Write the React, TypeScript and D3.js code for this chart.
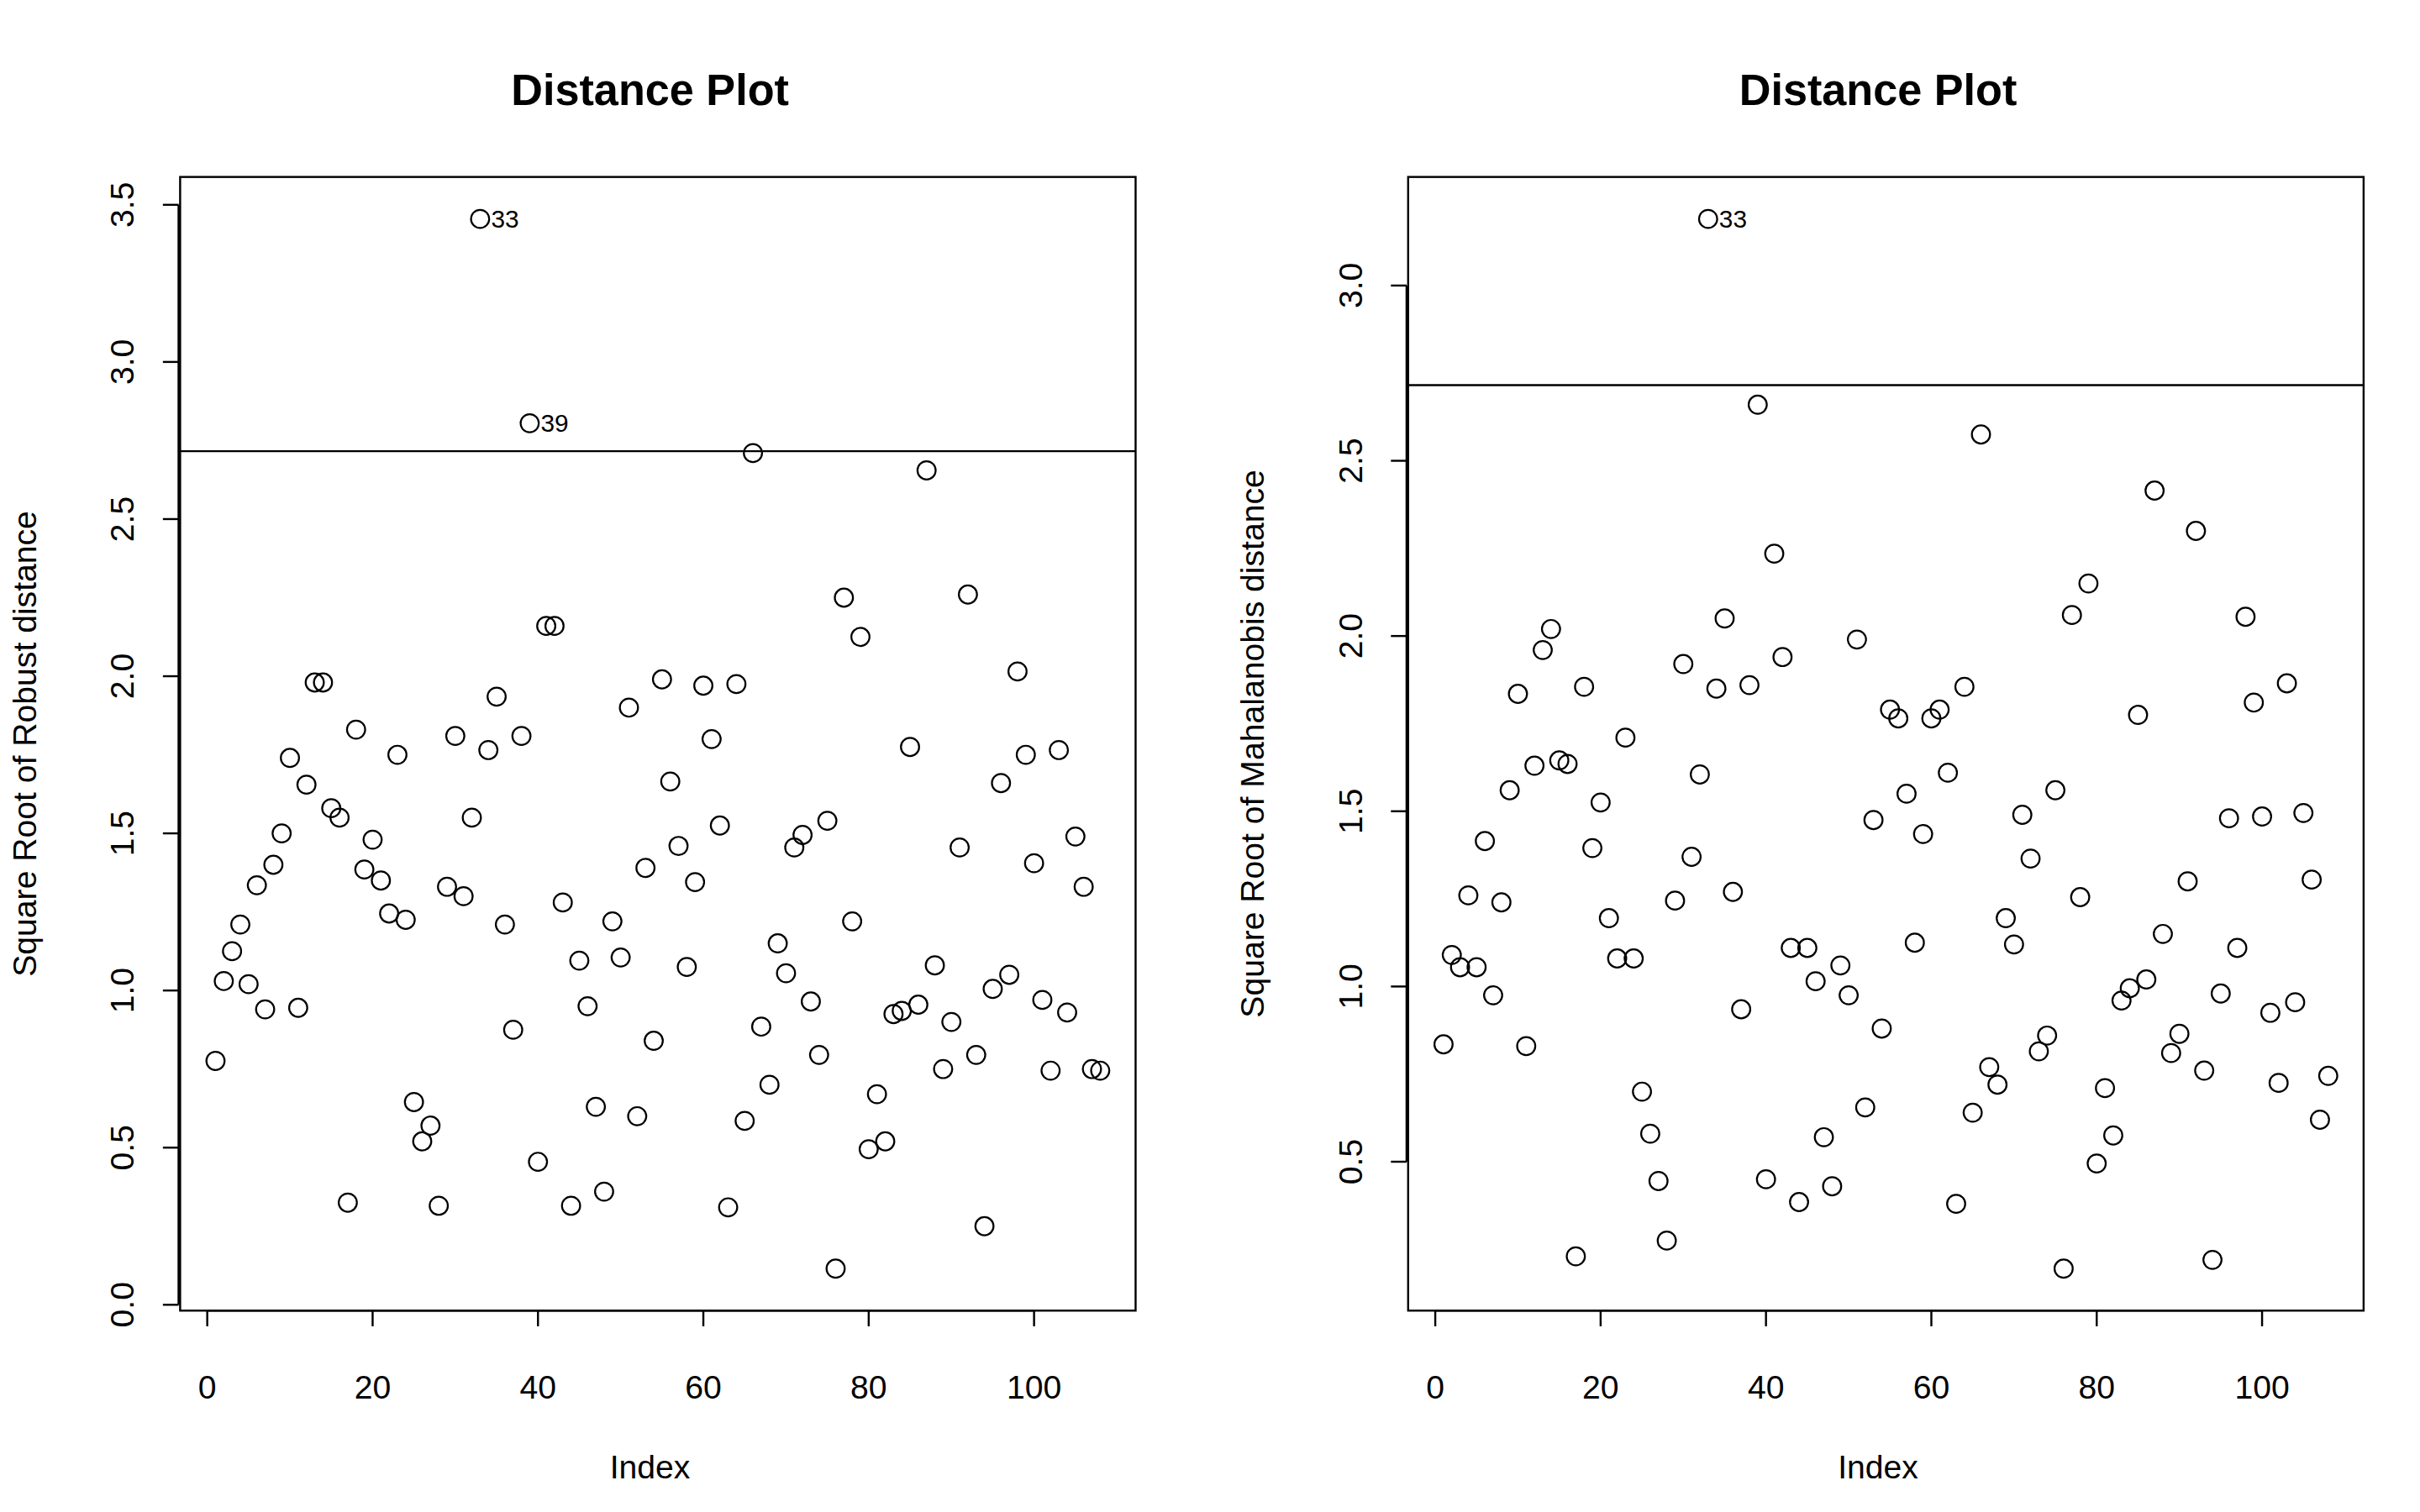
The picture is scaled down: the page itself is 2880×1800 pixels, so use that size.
import React, { useEffect, useRef } from "react";
import * as d3 from "d3";

const robust: number[] = [0.776,1.03,1.125,1.21,1.02,1.335,0.94,1.40,1.50,1.74,0.945,1.655,1.98,1.98,1.58,1.55,0.325,1.83,1.385,1.48,1.35,1.245,1.75,1.225,0.645,0.52,0.57,0.315,1.33,1.81,1.30,1.55,3.455,1.765,1.935,1.21,0.875,1.81,2.805,0.455,2.16,2.16,1.28,0.315,1.095,0.95,0.63,0.36,1.22,1.105,1.90,0.60,1.39,0.84,1.99,1.665,1.46,1.075,1.345,1.97,1.80,1.525,0.31,1.975,0.585,2.71,0.885,0.70,1.15,1.055,1.455,1.495,0.965,0.795,1.54,0.115,2.25,1.22,2.125,0.495,0.67,0.52,0.925,0.935,1.775,0.955,2.655,1.08,0.75,0.90,1.455,2.26,0.795,0.25,1.005,1.66,1.05,2.015,1.75,1.405,0.97,0.745,1.765,0.93,1.49,1.33,0.75,0.745];
const mahal: number[] = [0.835,1.09,1.055,1.26,1.055,1.415,0.975,1.24,1.56,1.835,0.83,1.63,1.96,2.02,1.645,1.635,0.23,1.855,1.395,1.525,1.195,1.08,1.71,1.08,0.70,0.58,0.445,0.275,1.245,1.92,1.37,1.605,3.19,1.85,2.05,1.27,0.935,1.86,2.66,0.45,2.235,1.94,1.11,0.385,1.11,1.015,0.57,0.43,1.06,0.975,1.99,0.655,1.475,0.88,1.79,1.765,1.55,1.125,1.435,1.765,1.79,1.61,0.38,1.855,0.64,2.575,0.77,0.72,1.195,1.12,1.49,1.365,0.815,0.86,1.56,0.195,2.06,1.255,2.15,0.495,0.71,0.575,0.96,0.995,1.775,1.02,2.415,1.15,0.81,0.865,1.30,2.30,0.76,0.22,0.98,1.48,1.11,2.055,1.81,1.485,0.925,0.725,1.865,0.955,1.495,1.305,0.62,0.745];
const cutoff = 2.716;
const xTicks = [0, 20, 40, 60, 80, 100];
const robustTicks = [0.0, 0.5, 1.0, 1.5, 2.0, 2.5, 3.0, 3.5];
const mahalTicks = [0.5, 1.0, 1.5, 2.0, 2.5, 3.0];
const panels = [
  { title: "Distance Plot", ylab: "Square Root of Robust distance", values: robust, ticks: robustTicks, left: 115 },
  { title: "Distance Plot", ylab: "Square Root of Mahalanobis distance", values: mahal, ticks: mahalTicks, left: 899 },
];

export default function App() {
  const ref = useRef<SVGSVGElement>(null);
  useEffect(() => {
    const svg = d3.select(ref.current);
    svg.selectAll("*").remove();
    const font = "'Liberation Sans', Arial, sans-serif";
    const top = 113, bottom = 837, w = 610;
    panels.forEach((p) => {
      const g = svg.append("g");
      const n = p.values.length;
      const xpad = (n - 1) * 0.04;
      const x = d3.scaleLinear().domain([1 - xpad, n + xpad]).range([p.left, p.left + w]);
      const mn = d3.min(p.values)!, mx = d3.max(p.values)!;
      const yp = (mx - mn) * 0.04;
      const y = d3.scaleLinear().domain([mn - yp, mx + yp]).range([bottom, top]);
      g.append("rect").attr("x", p.left).attr("y", top).attr("width", w).attr("height", bottom - top)
        .attr("fill", "none").attr("stroke", "black").attr("stroke-width", 1.3);
      g.append("line").attr("x1", x(0)).attr("x2", x(100)).attr("y1", bottom).attr("y2", bottom).attr("stroke", "black").attr("stroke-width", 1.3);
      xTicks.forEach((t) => {
        g.append("line").attr("x1", x(t)).attr("x2", x(t)).attr("y1", bottom).attr("y2", bottom + 10).attr("stroke", "black").attr("stroke-width", 1.3);
        g.append("text").attr("x", x(t)).attr("y", 893).attr("text-anchor", "middle").attr("font-size", 21).attr("font-family", font).text(t);
      });
      const ya = p.left - 1;
      g.append("line").attr("x1", ya).attr("x2", ya).attr("y1", y(p.ticks[0])).attr("y2", y(p.ticks[p.ticks.length - 1])).attr("stroke", "black").attr("stroke-width", 1.3);
      p.ticks.forEach((t) => {
        g.append("line").attr("x1", ya - 10).attr("x2", ya).attr("y1", y(t)).attr("y2", y(t)).attr("stroke", "black").attr("stroke-width", 1.3);
        g.append("text").attr("transform", `translate(${p.left - 37},${y(t)}) rotate(-90)`).attr("text-anchor", "middle")
          .attr("dy", "0.35em").attr("font-size", 21).attr("font-family", font).text(t.toFixed(1));
      });
      g.append("text").attr("x", p.left + w / 2 - 5).attr("y", 67).attr("text-anchor", "middle").attr("font-size", 28)
        .attr("font-weight", "bold").attr("font-family", font).text(p.title);
      g.append("text").attr("x", p.left + w / 2 - 5).attr("y", 944).attr("text-anchor", "middle").attr("font-size", 21).attr("font-family", font).text("Index");
      g.append("text").attr("transform", `translate(${p.left - 92},${(top + bottom) / 2}) rotate(-90)`).attr("text-anchor", "middle")
        .attr("font-size", 21).attr("font-family", font).text(p.ylab);
      g.append("line").attr("x1", p.left).attr("x2", p.left + w).attr("y1", y(cutoff)).attr("y2", y(cutoff)).attr("stroke", "black").attr("stroke-width", 1.3);
      p.values.forEach((v, i) => {
        g.append("circle").attr("cx", x(i + 1)).attr("cy", y(v)).attr("r", 5.8).attr("fill", "none").attr("stroke", "black").attr("stroke-width", 1.2);
        if (v > cutoff) {
          g.append("text").attr("x", x(i + 1) + 7).attr("y", y(v)).attr("dy", "0.35em").attr("font-size", 16).attr("font-family", font).text(i + 1);
        }
      });
    });
  }, []);
  return (
    <svg ref={ref} width={2880} height={1800} viewBox="0 0 1545 965.6"
      style={{ position: "absolute", left: 0, top: 0, background: "white" }} />
  );
}
